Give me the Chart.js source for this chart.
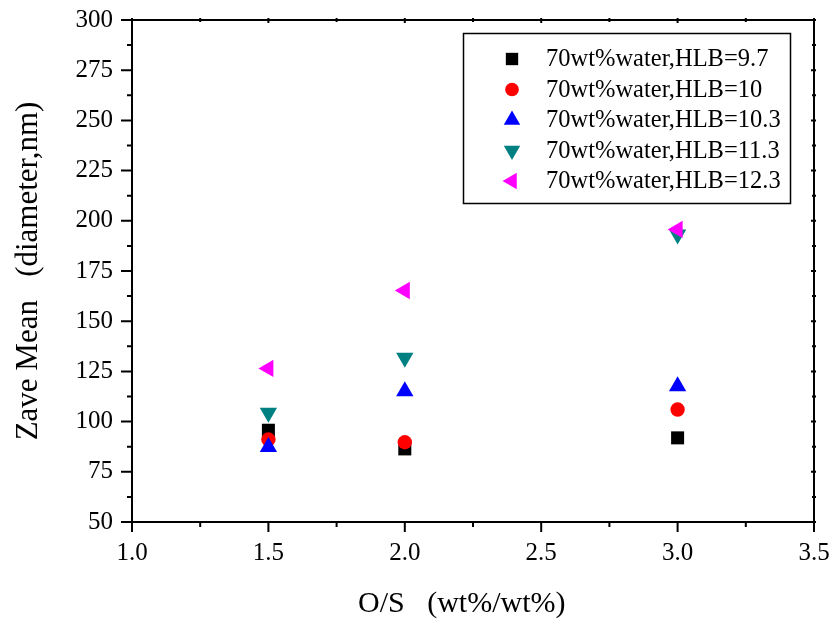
<!DOCTYPE html>
<html>
<head>
<meta charset="utf-8">
<script src="https://cdn.jsdelivr.net/npm/chart.js@4/dist/chart.umd.min.js"></script>
<style>
html,body{margin:0;padding:0;background:#fff;}
#wrap{width:834px;height:622px;position:relative;}
</style>
</head>
<body>
<div id="wrap"><canvas id="c" width="834" height="622"></canvas></div>
<script>
// ---- data ----
const xCategories = [1.5, 2.0, 3.0];
const seriesLabels = [
  '70wt%water,HLB=9.7',
  '70wt%water,HLB=10',
  '70wt%water,HLB=10.3',
  '70wt%water,HLB=11.3',
  '70wt%water,HLB=12.3'
];
const hlb97  = [95.7, 86.4, 91.9];
const hlb10  = [91.1, 89.7, 106.0];
const hlb103 = [87.3, 115.1, 117.6];
const hlb113 = [104.4, 131.8, 193.2];
const hlb123 = [126.5, 165.3, 195.7];
const xTickValues = [1.0, 1.5, 2.0, 2.5, 3.0, 3.5];
const yTickValues = [50, 75, 100, 125, 150, 175, 200, 225, 250, 275, 300];
const xMinorTicks = [1.25, 1.75, 2.25, 2.75, 3.25];
const yMinorTicks = [62.5, 87.5, 112.5, 137.5, 162.5, 187.5, 212.5, 237.5, 262.5, 287.5];

const seriesValues = [hlb97, hlb10, hlb103, hlb113, hlb123];
const styles = [
  {color:'#000000', pointStyle:'rect', radius:9.2, rotation:0},
  {color:'#ff0000', pointStyle:'circle', radius:7.2, rotation:0},
  {color:'#0000ff', pointStyle:'triangle', radius:10, rotation:0},
  {color:'#008080', pointStyle:'triangle', radius:10, rotation:180},
  {color:'#ff00ff', pointStyle:'triangle', radius:10, rotation:270}
];

const datasets = seriesValues.map((vals, i) => ({
  label: seriesLabels[i],
  data: xCategories.map((x, j) => ({x: x, y: vals[j]})),
  backgroundColor: styles[i].color,
  borderColor: styles[i].color,
  borderWidth: 0,
  pointStyle: styles[i].pointStyle,
  pointRadius: styles[i].radius,
  pointHoverRadius: styles[i].radius,
  rotation: styles[i].rotation,
  order: 10 - i
}));

const SERIF = "'Liberation Serif', 'Times New Roman', serif";

const framePlugin = {
  id: 'frame',
  afterDraw(chart) {
    const ctx = chart.ctx;
    const a = chart.chartArea;
    const xs = chart.scales.x, ys = chart.scales.y;
    ctx.save();
    ctx.strokeStyle = '#000';
    ctx.lineWidth = 2;
    ctx.beginPath();
    ctx.rect(a.left, a.top, a.right - a.left, a.bottom - a.top);
    ctx.stroke();
    ctx.beginPath();
    xTickValues.forEach(v => {
      const px = xs.getPixelForValue(v);
      ctx.moveTo(px, a.bottom); ctx.lineTo(px, a.bottom + 10);
      ctx.moveTo(px, a.top - 2); ctx.lineTo(px, a.top + 3);
    });
    xMinorTicks.forEach(v => {
      const px = xs.getPixelForValue(v);
      ctx.moveTo(px, a.bottom); ctx.lineTo(px, a.bottom + 5);
      ctx.moveTo(px, a.top - 2); ctx.lineTo(px, a.top + 2);
    });
    yTickValues.forEach(v => {
      const py = ys.getPixelForValue(v);
      ctx.moveTo(a.left - 11, py); ctx.lineTo(a.left, py);
      ctx.moveTo(a.right - 3, py); ctx.lineTo(a.right + 2, py);
    });
    yMinorTicks.forEach(v => {
      const py = ys.getPixelForValue(v);
      ctx.moveTo(a.left - 5, py); ctx.lineTo(a.left, py);
      ctx.moveTo(a.right - 2, py); ctx.lineTo(a.right + 2, py);
    });
    ctx.stroke();

    // legend box
    const bx = 463.5, by = 33.5, bw = 327, bh = 170;
    ctx.lineWidth = 1.5;
    ctx.strokeRect(bx, by, bw, bh);
    ctx.font = '24.5px ' + SERIF;
    ctx.textBaseline = 'middle';
    ctx.textAlign = 'left';
    chart.data.datasets.forEach((ds, i) => {
      const cy = 59 + i * 30.5;
      const st = styles[i];
      ctx.fillStyle = st.color;
      ctx.strokeStyle = st.color;
      Chart.helpers.drawPoint(ctx, {pointStyle: st.pointStyle, radius: st.radius * 0.95, rotation: st.rotation, borderWidth: 0}, 512, cy);
      ctx.fillStyle = '#000';
      ctx.fillText(ds.label, 546, cy + 1);
    });
    ctx.restore();
  }
};

new Chart(document.getElementById('c'), {
  type: 'scatter',
  data: { datasets: datasets },
  options: {
    responsive: false,
    animation: false,
    devicePixelRatio: 1,
    layout: { padding: { top: 20, right: 20, left: 0, bottom: 0 } },
    plugins: { legend: { display: false }, tooltip: { enabled: false } },
    scales: {
      x: {
        type: 'linear',
        min: 1.0, max: 3.5,
        afterBuildTicks: s => { s.ticks = xTickValues.map(v => ({value: v})); },
        afterFit: s => { s.height = 100; s.paddingLeft = 0; s.paddingRight = 0; },
        grid: { display: false, drawTicks: false },
        border: { display: false },
        ticks: {
          color: '#000',
          font: { family: SERIF, size: 25 },
          padding: 16,
          maxRotation: 0,
          callback: v => Number(v).toFixed(1)
        },
        title: {
          display: true,
          text: 'O/S   (wt%/wt%)   ',
          color: '#000',
          font: { family: SERIF, size: 30 },
          padding: { top: 0, bottom: 0 }
        }
      },
      y: {
        type: 'linear',
        min: 50, max: 300,
        afterBuildTicks: s => { s.ticks = yTickValues.map(v => ({value: v})); },
        afterFit: s => { s.width = 132; s.paddingTop = 0; s.paddingBottom = 0; },
        grid: { display: false, drawTicks: false },
        border: { display: false },
        ticks: {
          color: '#000',
          font: { family: SERIF, size: 25 },
          padding: 19,
          callback: v => String(v)
        },
        title: {
          display: true,
          text: 'Zave Mean   (diameter,nm)',
          color: '#000',
          font: { family: SERIF, size: 31 },
          padding: { top: 10, bottom: 0 }
        }
      }
    }
  },
  plugins: [framePlugin]
});
</script>
</body>
</html>
